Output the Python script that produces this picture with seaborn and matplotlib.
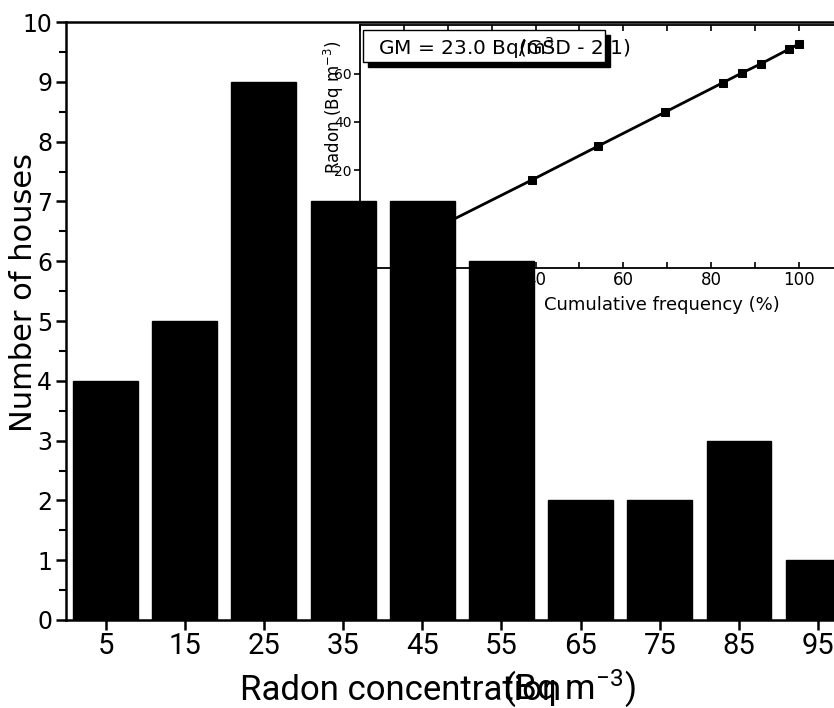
import matplotlib
matplotlib.use("Agg")
import matplotlib.pyplot as plt
from matplotlib.patches import Rectangle
import seaborn as sns
import pandas as pd

# histogram of radon concentration
bin_centres = [5, 15, 25, 35, 45, 55, 65, 75, 85, 95]
houses = [4, 5, 9, 7, 7, 6, 2, 2, 3, 1]

# inset: cumulative frequency plot
cum_freq = [8.7, 19.6, 39.1, 54.3, 69.6, 82.6, 87.0, 91.3, 97.8, 100.0]
radon = [-12.1, -2.1, 15.8, 30.0, 44.2, 56.3, 60.4, 64.2, 70.4, 72.5]

main_yticks = list(range(0, 11))
inset_xticks = [0, 20, 40, 60, 80, 100]
inset_yticks = [20, 40, 60]

sns.set_style("ticks")
plt.rcParams["font.family"] = ["DejaVu Sans"]
plt.rcParams.update({"text.color": "black", "axes.labelcolor": "black",
                     "xtick.color": "black", "ytick.color": "black",
                     "axes.edgecolor": "black", "mathtext.default": "regular"})
narrow = ["Roboto", "DejaVu Sans"]

hist_df = pd.DataFrame({"centre": bin_centres, "houses": houses})
cum_df = pd.DataFrame({"freq": cum_freq, "radon": radon})

fig = plt.figure(figsize=(8.34, 7.08), dpi=100)

# inset sits underneath the main axes (bars hide part of it)
ins = fig.add_axes([0.4317, 0.6215, 0.5683, 0.3432], zorder=1)
ax = fig.add_axes([0.0791, 0.1243, 0.9209, 0.8446], zorder=2)
ax.patch.set_visible(False)

sns.barplot(data=hist_df, x="centre", y="houses", native_scale=True,
            width=0.82, color="black", edgecolor="black", saturation=1, ax=ax)
ax.set_xlim(0, 97)
ax.set_ylim(0, 10)
ax.set_xticks(bin_centres)
ax.set_xticklabels([str(c) for c in bin_centres], family=narrow, fontsize=21)
ax.set_yticks(main_yticks)
ax.set_yticklabels([str(t) for t in main_yticks], fontsize=17)
ax.set_yticks([t + 0.5 for t in main_yticks[:-1]], minor=True)
ax.tick_params(axis="both", which="major", direction="out", length=7, width=1.8, pad=3)
ax.tick_params(axis="y", which="minor", direction="out", length=5, width=1.5)
ax.tick_params(axis="x", which="major", pad=2)
for side in ["left", "bottom", "top"]:
    ax.spines[side].set_linewidth(1.8)
ax.spines["right"].set_visible(False)
ax.set_ylabel("Number of houses", fontsize=22)
ax.yaxis.set_label_coords(-0.037, 0.548)
ax.set_xlabel("")
fig.text(0.288, 0.012, "Radon concentration", family=narrow, fontsize=25, ha="left")
fig.text(0.603, 0.012, "(Bq m$^{-3}$)", family=narrow, fontsize=25, ha="left")

# inset
sns.lineplot(data=cum_df, x="freq", y="radon", color="black", linewidth=2,
             marker="s", markersize=6, markeredgecolor="black", ax=ins)
ins.set_xlim(0, 108)
ins.set_ylim(-20.8, 80.4)
ins.set_xticks(inset_xticks)
ins.set_xticklabels([str(t) for t in inset_xticks], fontsize=12)
ins.set_xticks([10, 30, 50, 70, 90], minor=True)
ins.set_yticks(inset_yticks)
ins.set_yticklabels([str(t) for t in inset_yticks], fontsize=10)
ins.tick_params(axis="both", which="both", direction="out", length=4, width=1.2, pad=2)
ins.tick_params(axis="x", which="both", direction="in", top=True)
for side in ["left", "bottom", "top"]:
    ins.spines[side].set_linewidth(1.3)
ins.spines["right"].set_visible(False)
ins.set_xlabel("Cumulative frequency (%)", fontsize=13)
ins.xaxis.set_label_coords(0.637, -0.115)
ins.set_ylabel("Radon (Bq m$^{-3}$)", fontsize=12)
ins.yaxis.set_label_coords(-0.03, 0.66)

# GM box with drop shadow
ins.add_patch(Rectangle((0.016, 0.826), 0.511, 0.131, transform=ins.transAxes,
                        facecolor="black", edgecolor="black", clip_on=False, zorder=4))
ins.add_patch(Rectangle((0.006, 0.848), 0.511, 0.131, transform=ins.transAxes,
                        facecolor="white", edgecolor="black", linewidth=1,
                        clip_on=False, zorder=5))
ins.text(0.038, 0.905, "GM = 23.0 Bq/m$^3$", transform=ins.transAxes, fontsize=14.5,
         va="center", ha="left", zorder=6)
ins.text(0.336, 0.905, "(GSD - 2.1)", transform=ins.transAxes, fontsize=14.5,
         va="center", ha="left", zorder=6)

fig.savefig("out.png", dpi=100)
